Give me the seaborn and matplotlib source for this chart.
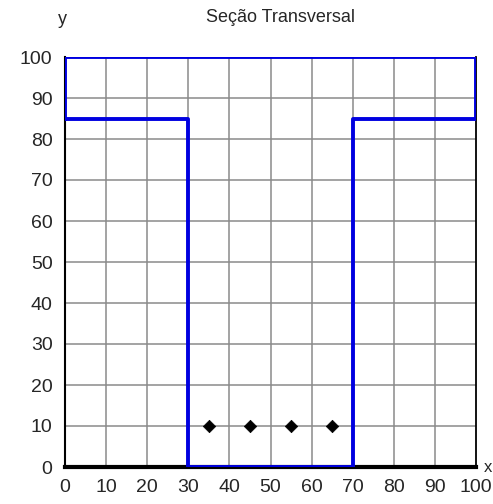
import matplotlib
matplotlib.use("Agg")
import matplotlib.pyplot as plt
import seaborn as sns
import pandas as pd

# cross-section outline (T shape)
outline_x = [0, 0, 100, 100, 70, 70, 30, 30, 0]
outline_y = [85, 100, 100, 85, 85, 0, 0, 85, 85]

# reinforcement points
bar_x = [35, 45, 55, 65]
bar_y = [10, 10, 10, 10]

ticks = list(range(0, 101, 10))

sns.set_style("white")
plt.rcParams['font.family'] = ['Liberation Sans', 'DejaVu Sans']

fig = plt.figure(figsize=(4.93, 5.04), dpi=100)
ax = fig.add_axes([65 / 493, 1 - 467 / 504, (476 - 65) / 493, (467 - 57) / 504])

for t in ticks[1:-1]:
    ax.axvline(t, color='#8a8a8a', lw=1.1, zorder=0)
    ax.axhline(t, color='#8a8a8a', lw=1.1, zorder=0)

df = pd.DataFrame({'x': outline_x, 'y': outline_y})
sns.lineplot(data=df, x='x', y='y', sort=False, estimator=None,
             color='#0000e0', lw=2.8, ax=ax, zorder=3)
sns.scatterplot(x=bar_x, y=bar_y, marker='D', s=40, color='black',
                edgecolor='black', ax=ax, zorder=4)

ax.set_xlim(0, 100)
ax.set_ylim(0, 100)
ax.set_xticks(ticks)
ax.set_yticks(ticks)
ax.tick_params(direction='inout', length=10, width=1.3, color='black',
               labelsize=14, pad=4)
ax.spines['top'].set_visible(False)
ax.spines['right'].set_color('black')
ax.spines['right'].set_linewidth(1.3)
ax.spines['left'].set_color('black')
ax.spines['left'].set_linewidth(1.5)
ax.spines['bottom'].set_color('black')
ax.spines['bottom'].set_linewidth(3)
for s in ['left', 'bottom', 'right']:
    ax.spines[s].set_zorder(1)
ax.set_xlabel('')
ax.set_ylabel('')

fig.text(280 / 493, 1 - 17 / 504, 'Seção Transversal', ha='center', va='center', fontsize=13)
fig.text(62 / 493, 1 - 20 / 504, 'y', ha='center', va='center', fontsize=13)
fig.text(488 / 493, 1 - 467 / 504, 'x', ha='center', va='center', fontsize=12)

fig.savefig('out.png', dpi=100)
